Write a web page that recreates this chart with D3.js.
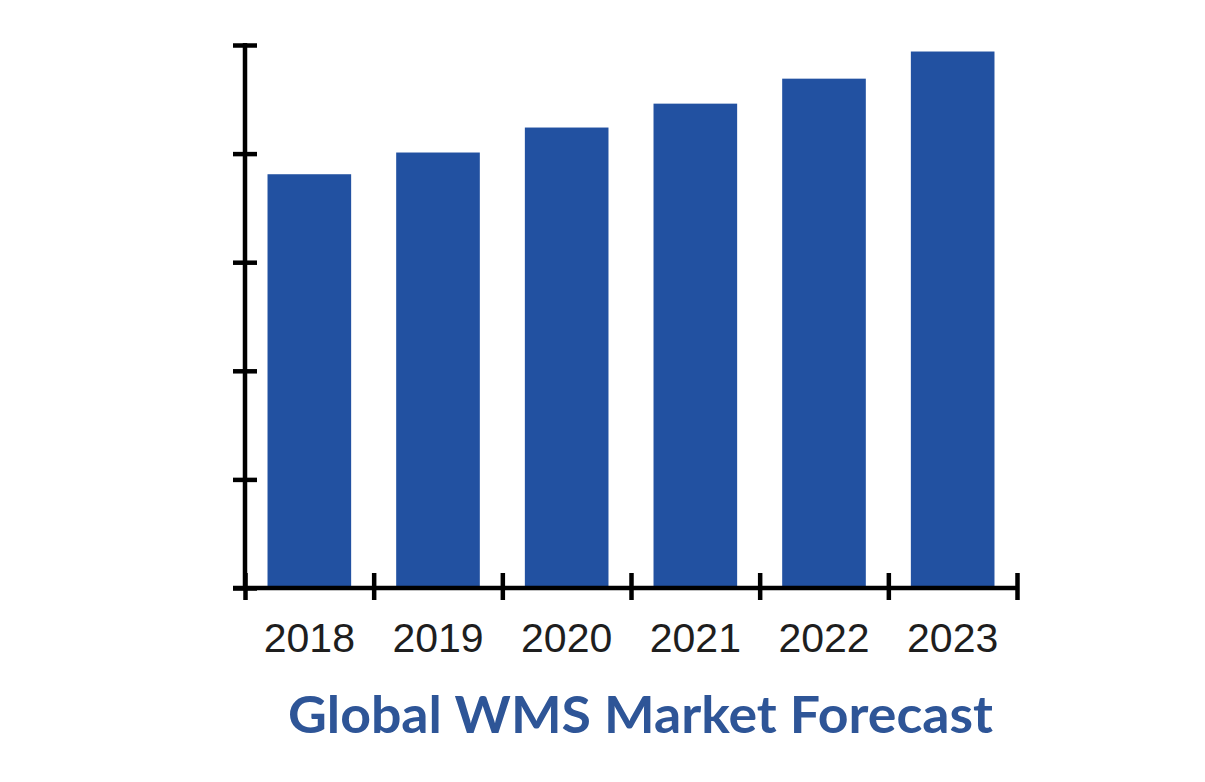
<!DOCTYPE html>
<html>
<head>
<meta charset="utf-8">
<script src="https://cdn.jsdelivr.net/npm/d3@7"></script>
<style>
  html, body { margin: 0; padding: 0; background: #fff; }
  svg { display: block; }
</style>
</head>
<body>
<svg id="chart" width="1205" height="782"></svg>
<script>
const years = ["2018", "2019", "2020", "2021", "2022", "2023"];
const values = [3.81, 4.01, 4.24, 4.46, 4.69, 4.94];
const yTicks = [0, 1, 2, 3, 4, 5];
const title = "Global WMS Market Forecast";

(function () {
const svg = d3.select("#chart");
const plotLeft = 245, plotRight = 1017, plotTop = 45, plotBottom = 588;
const sw = 4.5;

const x = d3.scaleBand().domain(years).range([plotLeft, plotRight])
  .paddingInner(0.35).paddingOuter(0.175);
const xb = d3.scaleLinear().domain([0, years.length]).range([plotLeft, plotRight]);
const y = d3.scaleLinear().domain([0, 5]).range([plotBottom, plotTop]);

// bars
svg.append("g").selectAll("rect").data(values).join("rect")
  .attr("x", (d, i) => x(years[i]))
  .attr("width", x.bandwidth())
  .attr("y", d => y(d))
  .attr("height", d => y(0) - y(d))
  .attr("fill", "#2251a1");

// y axis
const yAxis = svg.append("g").attr("transform", `translate(${plotLeft},0)`)
  .call(d3.axisLeft(y).tickValues(yTicks).tickFormat("").tickSizeOuter(0).tickSize(12));
yAxis.select(".domain").remove();
yAxis.selectAll(".tick line").attr("x1", -12).attr("x2", 12)
  .attr("stroke", "#000").attr("stroke-width", sw);

// x axis
const xAxis = svg.append("g").attr("transform", `translate(0,${plotBottom})`)
  .call(d3.axisBottom(xb).tickValues(d3.range(years.length + 1)).tickFormat("").tickSizeOuter(0).tickSize(12));
xAxis.select(".domain").remove();
xAxis.selectAll(".tick line").attr("y1", -15).attr("y2", 12)
  .attr("stroke", "#000").attr("stroke-width", sw);

// axis lines
svg.append("line").attr("x1", plotLeft).attr("x2", plotLeft)
  .attr("y1", y(5) - 2).attr("y2", plotBottom + 2)
  .attr("stroke", "#000").attr("stroke-width", sw);
svg.append("line").attr("x1", plotLeft - 12).attr("x2", plotRight + 2)
  .attr("y1", plotBottom).attr("y2", plotBottom)
  .attr("stroke", "#000").attr("stroke-width", sw);

// year labels
svg.append("g").selectAll("text").data(years).join("text")
  .attr("x", d => x(d) + x.bandwidth() / 2)
  .attr("y", 652)
  .attr("text-anchor", "middle")
  .attr("font-family", "'Liberation Sans', Arial, sans-serif")
  .attr("font-size", 41)
  .attr("fill", "#1e1e1e")
  .text(d => d);

// title
svg.append("text")
  .attr("x", 288).attr("y", 733)
  .attr("font-family", "Lato, 'Open Sans', sans-serif")
  .attr("font-weight", "bold")
  .attr("font-size", 52)
  .attr("fill", "#2e5597")
  .attr("textLength", 705)
  .attr("lengthAdjust", "spacingAndGlyphs")
  .text(title);
})();
</script>
</body>
</html>
